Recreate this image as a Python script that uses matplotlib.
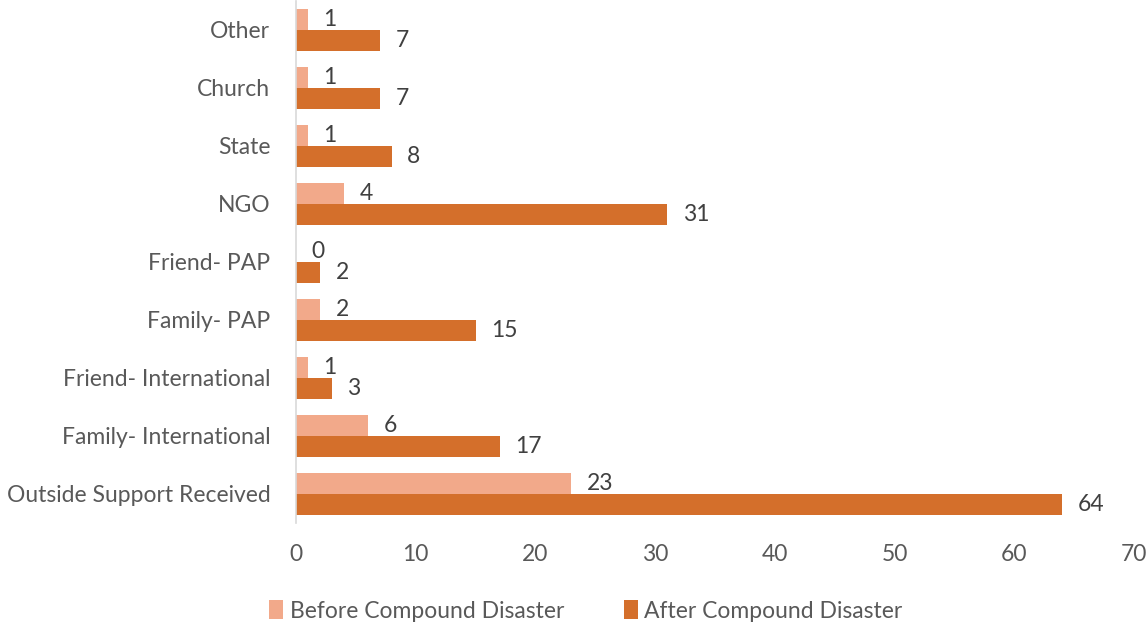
import matplotlib.pyplot as plt
import numpy as np

categories = ["Outside Support Received", "Family- International", "Friend- International",
              "Family- PAP", "Friend- PAP", "NGO", "State", "Church", "Other"]
before = [23, 6, 1, 2, 0, 4, 1, 1, 1]
after = [64, 17, 3, 15, 2, 31, 8, 7, 7]
xticks = [0, 10, 20, 30, 40, 50, 60, 70]

c_before = "#F2A98A"
c_after = "#D46F2B"
text_c = "#595959"

plt.rcParams['font.family'] = ['Lato', 'DejaVu Sans']
fs = 16.5

fig = plt.figure(figsize=(11.48, 6.23), dpi=100)
ax = fig.add_axes([296/1148, 1 - 523/623, (1134 - 296)/1148, 522/623])

y = np.arange(len(categories))
h = 0.36
ax.barh(y + h/2, before, height=h, color=c_before, label="Before Compound Disaster")
ax.barh(y - h/2, after, height=h, color=c_after, label="After Compound Disaster")

for yi, v in zip(y, before):
    ax.text(v + 1.3, yi + h/2, str(v), va='center', ha='left', fontsize=fs, color="#404040")
for yi, v in zip(y, after):
    ax.text(v + 1.3, yi - h/2, str(v), va='center', ha='left', fontsize=fs, color="#404040")

ax.set_xlim(0, 70)
ax.set_ylim(-0.5, len(categories) - 0.5)
ax.set_yticks(y)
ax.set_yticklabels(categories, fontsize=fs, color=text_c)
ax.set_xticks(xticks)
ax.set_xticklabels([str(t) for t in xticks], fontsize=fs, color=text_c)
ax.tick_params(axis='both', length=0)
ax.tick_params(axis='x', pad=15)
ax.tick_params(axis='y', pad=18.5)
for s in ['top', 'right', 'bottom']:
    ax.spines[s].set_visible(False)
ax.spines['left'].set_color("#D9D9D9")
ax.spines['left'].set_linewidth(1.2)

fig.legend(loc='center', bbox_to_anchor=(586/1148, 1 - 611/623), ncol=2, frameon=False,
           fontsize=fs, labelcolor=text_c, handlelength=0.6, handleheight=0.9,
           handletextpad=0.3, columnspacing=2.6)

fig.savefig("out.png", dpi=100)
